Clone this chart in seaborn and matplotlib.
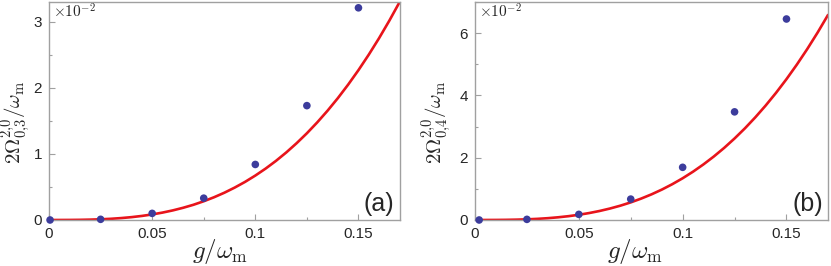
import matplotlib
matplotlib.use("Agg")
import matplotlib.pyplot as plt
from matplotlib.ticker import MultipleLocator
import numpy as np
import pandas as pd
import seaborn as sb

sb.set_style("ticks")
plt.rcParams["font.family"] = ["Liberation Sans", "DejaVu Sans"]
plt.rcParams["mathtext.fontset"] = "cm"

# numerical points (units of 1e-2)
g_pts_a = [0.0005, 0.025, 0.05, 0.075, 0.1, 0.125, 0.15]
omega_pts_a = [0.0, 0.01, 0.1, 0.33, 0.84, 1.73, 3.21]
g_pts_b = [0.002, 0.025, 0.05, 0.075, 0.1, 0.125, 0.15]
omega_pts_b = [0.0, 0.02, 0.18, 0.67, 1.69, 3.47, 6.45]

# analytic curve (units of 1e-2)
g_curve = [0.0, 0.005, 0.01, 0.015, 0.02, 0.025, 0.03, 0.035, 0.04, 0.045,
           0.05, 0.055, 0.06, 0.065, 0.07, 0.075, 0.08, 0.085, 0.09, 0.095,
           0.10, 0.105, 0.11, 0.115, 0.12, 0.125, 0.13, 0.135, 0.14, 0.145,
           0.15, 0.155, 0.16, 0.165, 0.17]
omega_curve_a = [0.0, 0.0001, 0.0007, 0.0023, 0.0054, 0.0105, 0.018, 0.0288,
                 0.043, 0.0612, 0.084, 0.1118, 0.145, 0.1845, 0.230, 0.2834,
                 0.344, 0.4125, 0.490, 0.5759, 0.672, 0.7776, 0.894, 1.0216,
                 1.161, 1.3119, 1.476, 1.6527, 1.843, 2.0478, 2.267, 2.5013,
                 2.751, 3.0174, 3.300]
omega_curve_b = [0.0, 0.0002, 0.0013, 0.0045, 0.0107, 0.0209, 0.036, 0.0574,
                 0.086, 0.122, 0.167, 0.2228, 0.289, 0.3678, 0.459, 0.565,
                 0.686, 0.8225, 0.976, 1.1483, 1.339, 1.5504, 1.783, 2.0369,
                 2.314, 2.6158, 2.942, 3.2952, 3.675, 4.083, 4.520, 4.9874,
                 5.486, 6.0163, 6.580]

panels = [
    ("a", g_pts_a, omega_pts_a, omega_curve_a, 3.3, [0, 1, 2, 3], 0.5,
     r"$2\Omega^{2{,}0}_{0{,}3}/\omega_{\mathrm{m}}$", -0.094, 0.487),
    ("b", g_pts_b, omega_pts_b, omega_curve_b, 7.0, [0, 2, 4, 6], 1.0,
     r"$2\Omega^{2{,}0}_{0{,}4}/\omega_{\mathrm{m}}$", -0.11, 0.453),
]
axes_pos = [[0.059, 0.173, 0.422, 0.820], [0.5716, 0.173, 0.4248, 0.820]]

fig = plt.figure(figsize=(8.31, 2.66), dpi=100)
dot_color = "#3c3c9c"
frame_color = "#a0a0a0"

for pos, (tag, gp, op, oc, ytop, yt, yminor, ylab, ylx, xlx) in zip(axes_pos, panels):
    ax = fig.add_axes(pos)
    curve = pd.DataFrame({"g": g_curve, "omega": oc})
    pts = pd.DataFrame({"g": gp, "omega": op})
    sb.lineplot(data=curve, x="g", y="omega", ax=ax, color="#e8141b",
                linewidth=1.9, zorder=2)
    sb.scatterplot(data=pts, x="g", y="omega", ax=ax, color=dot_color,
                   s=30, edgecolor="none", zorder=3, clip_on=False)
    ax.set_xlim(0, 0.17)
    ax.set_ylim(0, ytop)
    ax.set_xticks([0, 0.05, 0.1, 0.15])
    ax.set_xticklabels(["0", "0.05", "0.1", "0.15"])
    ax.set_yticks(yt)
    ax.set_yticklabels([str(v) for v in yt])
    ax.xaxis.set_minor_locator(MultipleLocator(0.025))
    ax.yaxis.set_minor_locator(MultipleLocator(yminor))
    ax.tick_params(which="major", direction="in", length=4, width=0.8,
                   color=frame_color, labelsize=11, pad=5)
    ax.tick_params(which="minor", direction="in", length=2.5, width=0.8,
                   color=frame_color)
    for s in ax.spines.values():
        s.set_color(frame_color)
        s.set_linewidth(1.0)
    ax.set_xlabel(r"$g/\omega_{\mathrm{m}}$", fontsize=18)
    ax.set_ylabel(ylab, fontsize=15)
    ax.xaxis.set_label_coords(xlx, -0.08)
    ax.yaxis.set_label_coords(ylx, 0.45)
    ax.yaxis.label.set_va("center")
    ax.text(0.012, 0.995, r"$\times10^{-2}$", transform=ax.transAxes,
            ha="left", va="top", fontsize=11)
    ax.text(0.985, 0.02, "(%s)" % tag, transform=ax.transAxes,
            ha="right", va="bottom", fontsize=18)

fig.savefig("out.png", dpi=100)
